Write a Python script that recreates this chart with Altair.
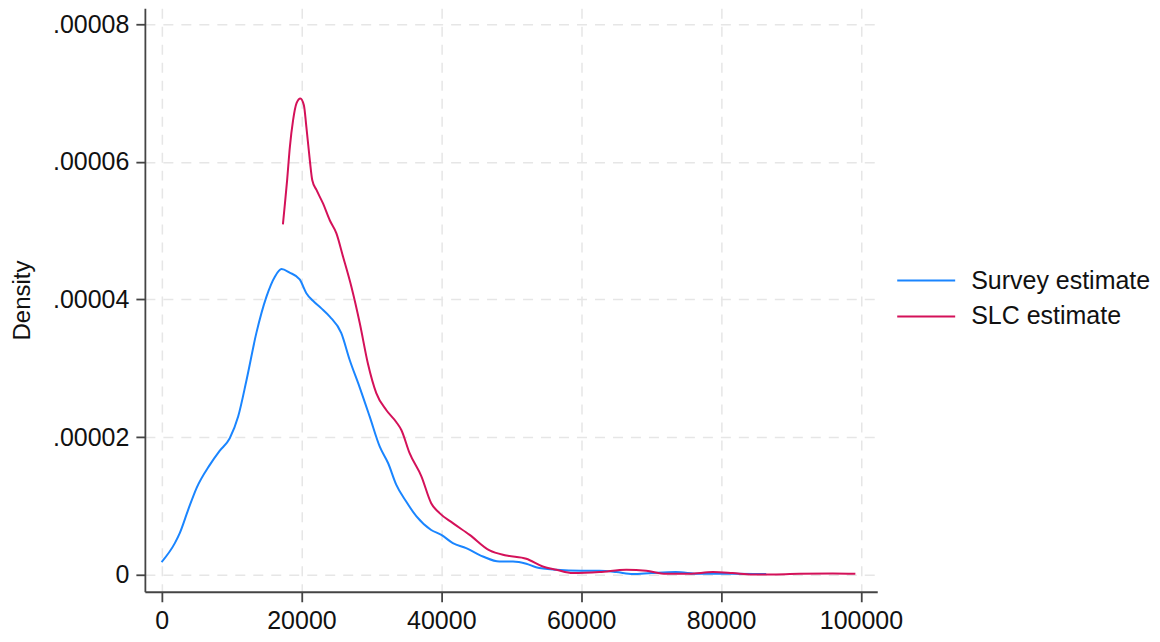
import altair as alt
import pandas as pd

# Survey estimate (density in units of 1e-6)
survey_x = [0, 1900, 2600, 3800, 5000, 6900, 8300, 9750, 10950, 12150, 13550, 15000,
            16200, 17150, 18300, 19750, 20700, 21650, 22850, 24050, 25700, 26900, 28300,
            29750, 31200, 32400, 33550, 35000, 36450, 38550, 40000, 41650, 43550, 45950,
            48300, 50250, 52150, 53550, 56450, 60000, 62600, 65000, 67400, 70000, 73500,
            76900, 81650, 86450]
survey_v = [1.84, 4.6, 6.05, 9.43, 12.6, 15.97, 18.0, 19.84, 22.98, 28.3, 35.1, 40.4,
            43.3, 44.4, 43.9, 42.9, 40.9, 39.8, 38.7, 37.5, 35.1, 31.2, 27.3,
            23.0, 18.6, 16.2, 13.1, 10.6, 8.47, 6.5, 5.8, 4.6, 3.87, 2.66,
            1.93, 1.93, 1.6, 1.1, 0.73, 0.58, 0.58, 0.4, 0.1, 0.25, 0.4,
            0.15, 0.15, 0.1]

# SLC estimate (density in units of 1e-6)
slc_x = [17350, 17600, 17950, 18350, 18800, 19300, 19850, 20350, 20700, 21200, 21550,
         22150, 23100, 24050, 25000, 25950, 27150, 28350, 29500, 30700, 32150, 33550,
         34300, 35450, 37150, 38550, 39750, 41650, 44050, 46900, 49300, 52150, 54500,
         56450, 58800, 62600, 66450, 69300, 72150, 75450, 78800, 81650, 84500, 87850,
         91200, 95950, 99200]
slc_v = [50.9, 53.5, 57.3, 62.2, 66.0, 68.5, 69.2, 68.2, 65.1, 60.2, 57.3,
         55.9, 53.9, 51.5, 49.6, 46.2, 41.8, 36.5, 30.7, 26.4, 23.9, 22.2,
         21.0, 17.7, 14.3, 10.4, 8.95, 7.5, 5.8, 3.53, 2.8, 2.32, 1.2,
         0.73, 0.25, 0.39, 0.73, 0.58, 0.15, 0.15, 0.39, 0.25, 0.05, 0.05,
         0.15, 0.2, 0.15]

series_names = ["Survey estimate", "SLC estimate"]
series_colors = ["#1a85ff", "#d41159"]
x_ticks = [0, 20000, 40000, 60000, 80000, 100000]
y_ticks = [0, 0.00002, 0.00004, 0.00006, 0.00008]

rows = []
for i, (x, v) in enumerate(zip(survey_x, survey_v)):
    rows.append({"series": series_names[0], "x": x, "density": v * 1e-6, "order": i})
for i, (x, v) in enumerate(zip(slc_x, slc_v)):
    rows.append({"series": series_names[1], "x": x, "density": v * 1e-6, "order": i})
df = pd.DataFrame(rows)

FONT = "Liberation Sans"

chart = alt.Chart(df).mark_line(strokeWidth=2, interpolate="monotone").encode(
    x=alt.X("x:Q",
            scale=alt.Scale(domain=[-2386, 102329], nice=False, zero=False),
            axis=alt.Axis(values=x_ticks, format="d", title=None,
                          labelFontSize=25, labelPadding=7, tickSize=10)),
    y=alt.Y("density:Q",
            scale=alt.Scale(domain=[-0.000002467, 0.00008229], nice=False, zero=False),
            axis=alt.Axis(values=y_ticks, title="Density",
                          labelExpr="datum.value == 0 ? '0' : replace(format(datum.value, '.5f'), '0.', '.')",
                          labelFontSize=25, labelPadding=7, tickSize=9,
                          titleFontSize=24, titleFontWeight="normal", titlePadding=18)),
    color=alt.Color("series:N",
                    scale=alt.Scale(domain=series_names, range=series_colors),
                    legend=alt.Legend(orient="none", legendX=766.5, legendY=257,
                                      title=None, symbolType="M-2,0L2,0",
                                      symbolSize=841, symbolStrokeWidth=2,
                                      labelFontSize=25, labelOffset=29.5,
                                      labelLimit=0,
                                      rowPadding=7, padding=0,
                                      labelFont=FONT, labelColor="#111111")),
    order="order:Q",
).properties(
    width=733, height=584,
    autosize=alt.AutoSizeParams(type="none"),
    padding={"left": 137, "top": 0, "right": 275, "bottom": 42},
).configure_view(
    stroke=None
).configure_axis(
    labelFont=FONT, titleFont=FONT, labelColor="#111111", titleColor="#111111",
    domainColor="#444444", domainWidth=1.8, tickColor="#444444", tickWidth=1.8,
    grid=True, gridColor="#e6e6e6", gridDash=[10, 8], gridWidth=1.5,
)

chart.save("out.html", embed_options={"renderer": "svg", "actions": False})
